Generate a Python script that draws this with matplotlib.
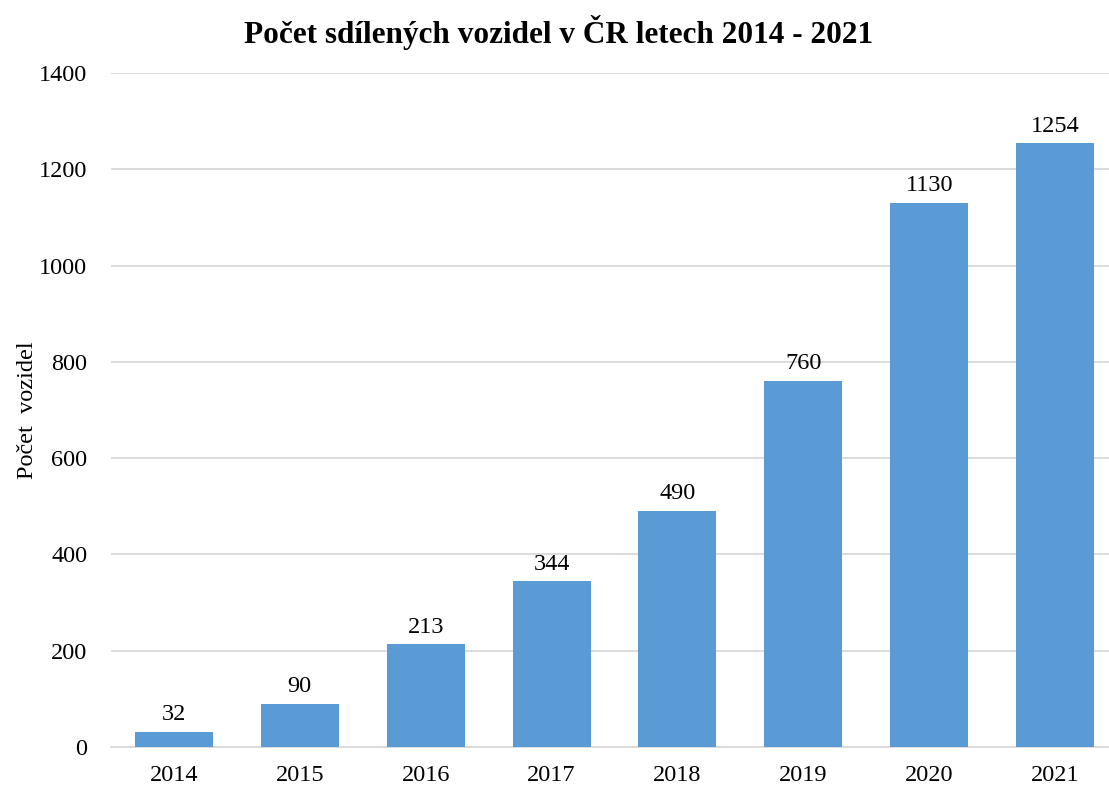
import matplotlib.pyplot as plt

years = ['2014', '2015', '2016', '2017', '2018', '2019', '2020', '2021']
vehicles = [32, 90, 213, 344, 490, 760, 1130, 1254]

plt.rcParams['font.family'] = ['Liberation Serif', 'DejaVu Serif']

fig = plt.figure(figsize=(11.09, 7.87), dpi=100)
ax = fig.add_axes([111 / 1109, 1 - 747 / 787, 1007 / 1109, 674 / 787])

x = range(len(years))
bars = ax.bar(x, vehicles, width=0.62, color='#5B9BD5', zorder=3)
for xi, v in zip(x, vehicles):
    ax.text(xi, v + 14, str(v), ha='center', va='bottom', fontsize=17.5)

ax.set_xlim(-0.5, len(years) - 0.5)
ax.set_ylim(0, 1400)
ax.set_yticks(range(0, 1401, 200))
ax.set_xticks(list(x))
ax.set_xticklabels(years)
ax.tick_params(axis='both', length=0, labelsize=17.5)
ax.tick_params(axis='y', pad=17)
ax.tick_params(axis='x', pad=13)
ax.grid(axis='y', color='#D9D9D9', linewidth=1.3, zorder=0)
for s in ['top', 'right', 'left']:
    ax.spines[s].set_visible(False)
ax.spines['bottom'].set_color('#D9D9D9')
ax.spines['bottom'].set_linewidth(1.3)

ax.set_ylabel('Počet  vozidel', fontsize=17.5)
ax.yaxis.set_label_coords(-73 / 1007, 0.5)
fig.text(0.5 + 4 / 1109, 1 - 33 / 787, 'Počet sdílených vozidel v ČR letech 2014 - 2021',
         ha='center', va='center', fontsize=22.5, fontweight='bold')

fig.savefig('out.png', dpi=100)
